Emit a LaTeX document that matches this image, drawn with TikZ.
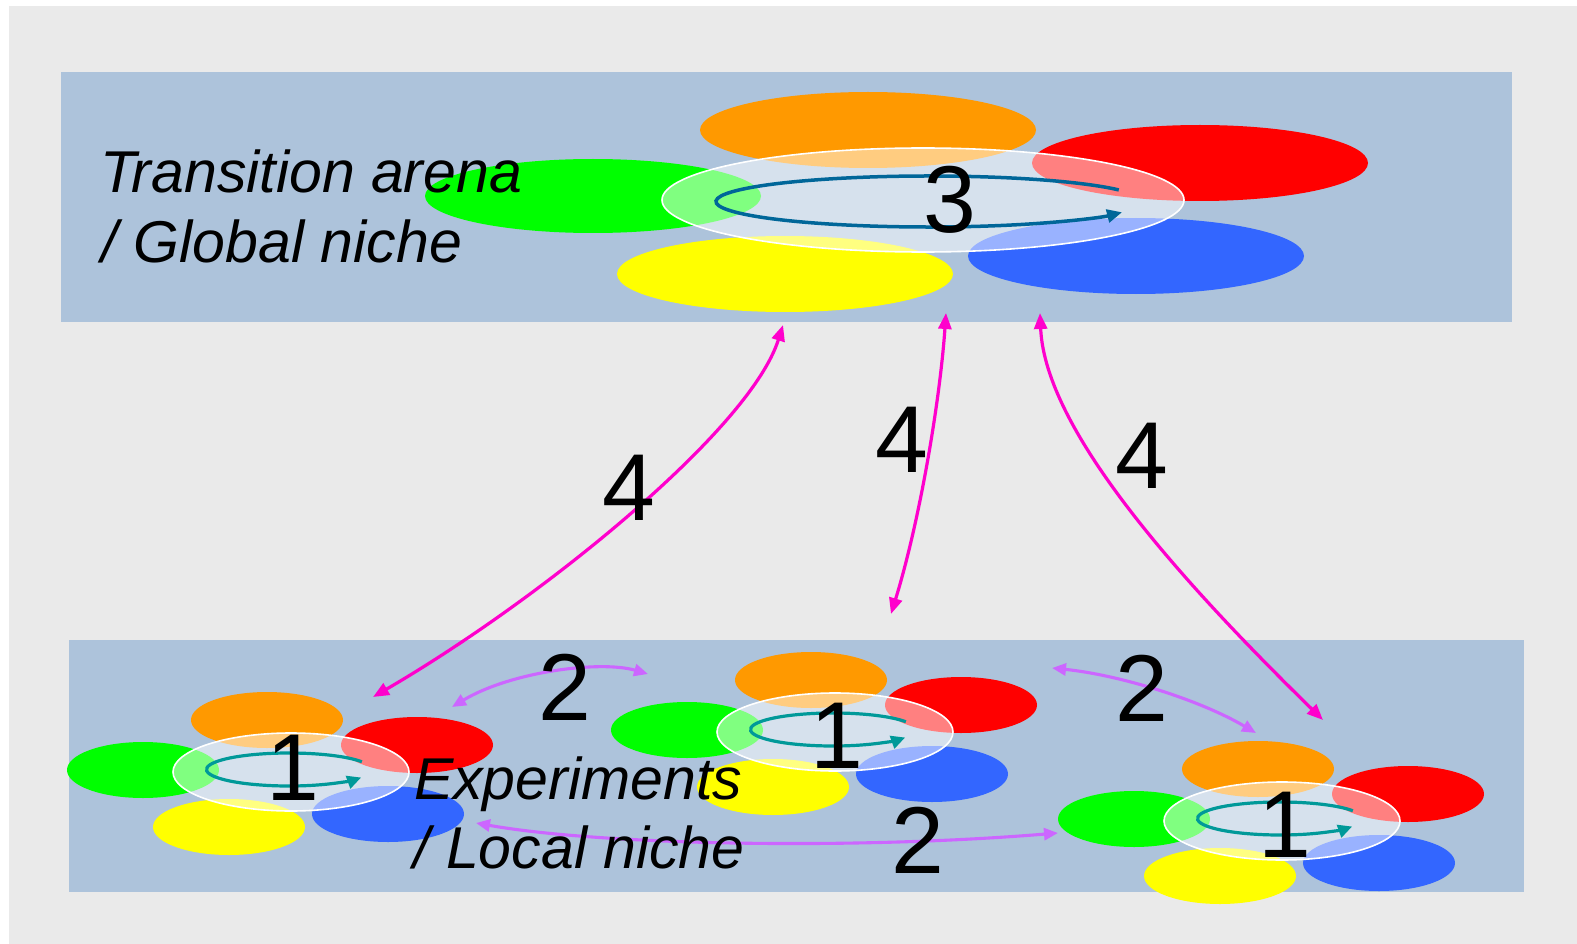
\documentclass[tikz,border=0pt]{standalone}
\usepackage{fontspec}
\setmainfont{Liberation Sans}
\usetikzlibrary{arrows.meta}
\definecolor{bggray}{RGB}{234,234,234}
\definecolor{panel}{RGB}{173,195,219}
\definecolor{corange}{RGB}{255,153,0}
\definecolor{cred}{RGB}{255,0,0}
\definecolor{cgreen}{RGB}{0,255,0}
\definecolor{cyellow}{RGB}{255,255,0}
\definecolor{cblue}{RGB}{51,102,255}
\definecolor{loopblue}{RGB}{0,102,153}
\definecolor{loopteal}{RGB}{0,153,153}
\definecolor{cmagenta}{RGB}{255,0,204}
\definecolor{cpurple}{RGB}{204,102,255}
\newcommand\smallcluster[2]{%
  \begin{scope}[shift={(#1,#2)}]
    \fill[corange] (-24,-52) ellipse[x radius=76pt, y radius=28pt];
    \fill[cred] (126,-27) ellipse[x radius=76pt, y radius=28pt];
    \fill[cgreen] (-148,-2) ellipse[x radius=76pt, y radius=28pt];
    \fill[cyellow] (-62,55) ellipse[x radius=76pt, y radius=28pt];
    \fill[cblue] (97,42) ellipse[x radius=76pt, y radius=28pt];
    \path[whiteell] (0,0) ellipse[x radius=118pt, y radius=39pt];
    \draw[loopsmall] ([shift={(28:82.5pt and 16.5pt)}]-2,-2.5)
      arc[start angle=28, end angle=331, x radius=82.5pt, y radius=16.5pt];
  \end{scope}}
\begin{document}
\begin{tikzpicture}[x=1pt,y=-1pt,
  whiteell/.style={fill=white, fill opacity=0.5, draw=white, draw opacity=1, line width=1.6pt},
  loopbig/.style={draw=loopblue, line width=3.5pt, -{Triangle[length=15pt,width=13pt]}},
  loopsmall/.style={draw=loopteal, line width=3.2pt, -{Triangle[length=14pt,width=13pt]}},
  magarrow/.style={draw=cmagenta, line width=3.2pt, {Triangle[length=16pt,width=13pt]}-{Triangle[length=16pt,width=13pt]}},
  purarrow/.style={draw=cpurple, line width=3.1pt, {Triangle[length=14pt,width=12pt]}-{Triangle[length=14pt,width=12pt]}},
  digit/.style={inner sep=0pt, anchor=base, font=\fontsize{95}{95}\selectfont},
  label/.style={inner sep=0pt, font=\fontsize{59}{69}\selectfont\itshape}]
\useasboundingbox (0,0) rectangle (1577,944);
\fill[bggray] (9,6) rectangle (1577,944);
\fill[panel] (61,72) rectangle (1512,322);
\fill[panel] (69,640) rectangle (1524,892);
% top cluster
\fill[corange] (868,130) ellipse[x radius=168pt, y radius=38pt];
\fill[cred] (1200,163) ellipse[x radius=168pt, y radius=38pt];
\fill[cgreen] (593,196) ellipse[x radius=168pt, y radius=37pt];
\fill[cyellow] (785,274) ellipse[x radius=168pt, y radius=38pt];
\fill[cblue] (1136,256) ellipse[x radius=168pt, y radius=38pt];
\path[whiteell] (923,200) ellipse[x radius=261pt, y radius=52pt];
\draw[loopbig] ([shift={(27:213pt and 25.5pt)}]929,201.5)
  arc[start angle=27, end angle=335, x radius=213pt, y radius=25.5pt];
% bottom clusters
\smallcluster{291}{772}
\smallcluster{835}{732}
\smallcluster{1282}{821}
% connectors
\coordinate (a1t) at (783,325);
\coordinate (a1b) at (373,697);
\coordinate (a2t) at (946,313);
\coordinate (a2b) at (891,614);
\coordinate (a3t) at (1040,313);
\coordinate (a3b) at (1323,720);
\coordinate (p1l) at (452,707);
\coordinate (p1r) at (648,674);
\coordinate (p2l) at (1052,668);
\coordinate (p2r) at (1256,733);
\coordinate (p3l) at (476,823);
\coordinate (p3r) at (1058,833);
\draw[magarrow] (a1t) .. controls (750,430) and (540,600) .. (a1b);
\draw[magarrow] (a2t) .. controls (940,400) and (920,520) .. (a2b);
\draw[magarrow] (a3t) .. controls (1045,430) and (1180,580) .. (a3b);
\draw[purarrow] (p1l) .. controls (510,672) and (600,660) .. (p1r);
\draw[purarrow] (p2l) .. controls (1120,675) and (1200,700) .. (p2r);
\draw[purarrow] (p3l) .. controls (600,845) and (850,850) .. (p3r);
% texts
\node[label, anchor=base west] (ta1) at (100,193) {Transition arena};
\node[label, anchor=base west] (ta2) at (101,262) {/ Global niche};
\node[label, anchor=base] (ex1) at (578,799) {Experiments};
\node[label, anchor=base] (ex2) at (579,868) {/ Local niche};
\node[digit] (d3) at (950,233) {3};
\node[digit] (d1a) at (293,800) {1};
\node[digit] (d1b) at (837,768) {1};
\node[digit] (d1c) at (1285,857) {1};
\node[digit] (d2a) at (565,720) {2};
\node[digit] (d2b) at (1142,721) {2};
\node[digit] (d2c) at (918,873) {2};
\node[digit] (d4a) at (629,520) {4};
\node[digit] (d4b) at (902,472) {4};
\node[digit] (d4c) at (1142,488) {4};
\end{tikzpicture}
\end{document}
